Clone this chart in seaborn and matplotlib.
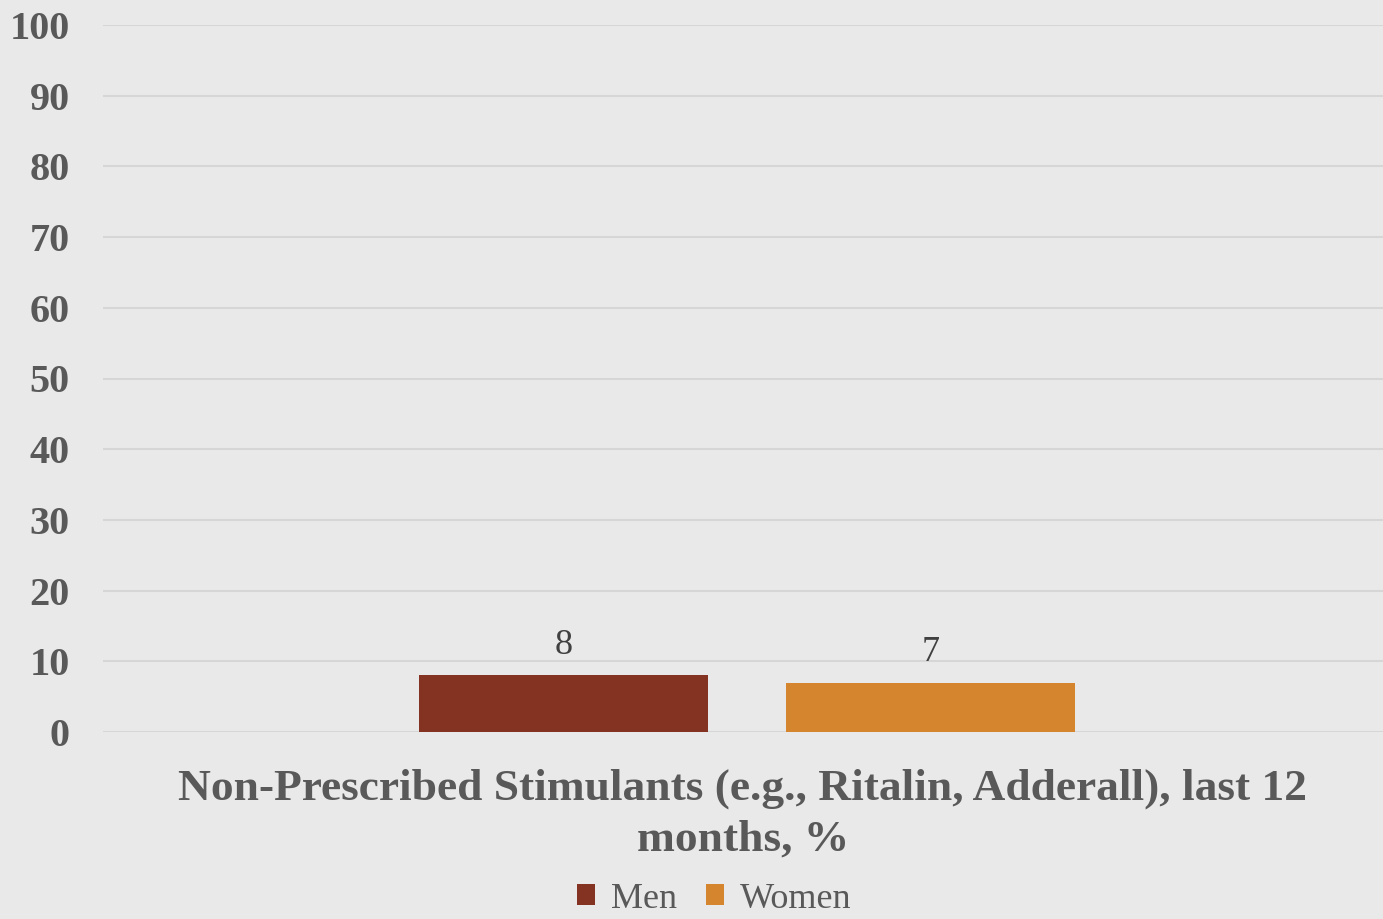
import matplotlib
matplotlib.use("Agg")
import matplotlib.pyplot as plt
import seaborn as sns
import pandas as pd
from matplotlib.patches import Patch

category = ["Non-Prescribed Stimulants (e.g., Ritalin, Adderall), last 12\nmonths, %"]
groups = ["Men", "Women"]
values = [8, 7]
yticks = [0, 10, 20, 30, 40, 50, 60, 70, 80, 90, 100]
colors = ["#843322", "#D5852E"]

df = pd.DataFrame({"cat": category * len(groups), "group": groups, "value": values})

sns.set_theme(style="white")
plt.rcParams["font.family"] = ["Liberation Serif", "DejaVu Serif"]

bg = "#E9E9E9"
fig = plt.figure(figsize=(13.83, 9.19), dpi=100, facecolor=bg)
ax = fig.add_axes([103/1383, 1-732/919, 1-103/1383, (732-25)/919])
ax.set_facecolor(bg)

sns.barplot(data=df, x="cat", y="value", hue="group", palette=colors,
            width=0.573, gap=0.2125, ax=ax, legend=False, saturation=1,
            linewidth=0, edgecolor="none")

ax.set_ylim(0, 100)
ax.set_xlim(-0.503, 0.497)
ax.set_yticks(yticks)
ax.set_yticklabels([str(t) for t in yticks], fontsize=29, fontweight="bold", color="#595959")
ax.tick_params(axis="y", length=0, pad=24)
ax.tick_params(axis="x", length=0)
ax.set_xticks([])
ax.yaxis.grid(True, color="#D6D6D6", linewidth=1.5)
ax.set_axisbelow(True)
for s in ax.spines.values():
    s.set_visible(False)
ax.set_ylabel("")
ax.set_xlabel(category[0], fontsize=32.7, fontweight="bold", color="#595959", labelpad=26,
              linespacing=1.35)

for c in ax.containers:
    ax.bar_label(c, fontsize=26, color="#404040", padding=10)

handles = [Patch(facecolor=col, edgecolor="none") for col in colors]
fig.legend(handles, groups, loc="center", bbox_to_anchor=(714/1383, 1-899/919), ncol=2,
           frameon=False, fontsize=26, labelcolor="#595959", handlelength=0.5,
           handleheight=0.5, handletextpad=0.45, columnspacing=0.8)

fig.savefig("out.png", dpi=100, facecolor=bg)
